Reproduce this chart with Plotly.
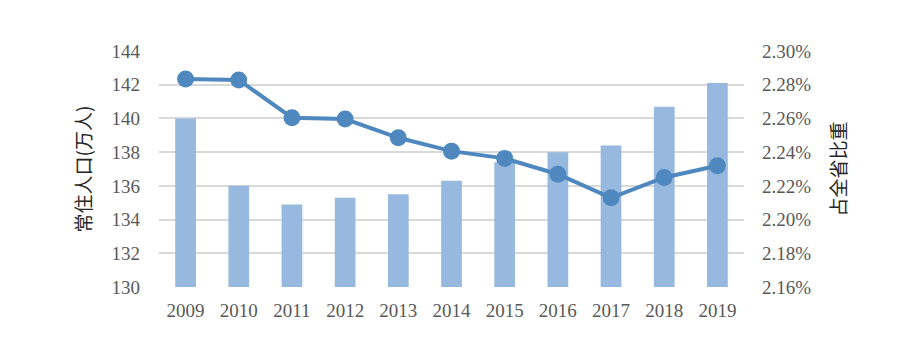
import plotly.graph_objects as go

years = ["2009", "2010", "2011", "2012", "2013", "2014", "2015", "2016", "2017", "2018", "2019"]
population = [140.0, 136.0, 134.9, 135.3, 135.5, 136.3, 137.4, 138.0, 138.4, 140.7, 142.1]
share_pct = [2.2834, 2.2828, 2.2604, 2.2596, 2.2485, 2.2406, 2.2363, 2.2269, 2.2129, 2.2250, 2.2319]

left_ticks = [130, 132, 134, 136, 138, 140, 142, 144]
right_ticks = [2.16, 2.18, 2.20, 2.22, 2.24, 2.26, 2.28, 2.30]
right_labels = [f"{v:.2f}%" for v in right_ticks]

tick_font = dict(family="Liberation Serif, Times New Roman, serif", size=19, color="#595959")
title_font = dict(family="Noto Sans CJK SC, sans-serif", size=19, color="#262626")

fig = go.Figure()
fig.add_trace(go.Bar(
    x=years, y=population, name="常住人口",
    marker=dict(color="#97b9e0", line=dict(width=0)),
    width=0.39, yaxis="y", showlegend=False,
))
fig.add_trace(go.Scatter(
    x=years, y=share_pct, name="占全省比重", mode="lines+markers",
    line=dict(color="#4f88bf", width=4),
    marker=dict(color="#4f88bf", size=17),
    yaxis="y2", showlegend=False,
))

fig.update_layout(
    width=915, height=353,
    margin=dict(l=159, r=171, t=51, b=66),
    paper_bgcolor="white", plot_bgcolor="white",
    xaxis=dict(
        type="category", tickfont=tick_font, showgrid=False, zeroline=False,
        showline=False, ticks="", ticklabelstandoff=10, automargin=False,
        range=[-0.5, 10.5],
    ),
    yaxis=dict(
        range=[130, 144], tickvals=left_ticks, ticktext=[str(v) for v in left_ticks],
        tickfont=tick_font, showgrid=True, gridcolor="#d9d9d9", gridwidth=2,
        zeroline=False, showline=False, ticks="", ticklabelstandoff=18,
        automargin=False,
        title=dict(text="常住人口(万人)", font=title_font, standoff=14),
    ),
    yaxis2=dict(
        range=[2.16, 2.30], tickvals=right_ticks, ticktext=right_labels,
        overlaying="y", side="right", automargin=False,
        tickfont=tick_font, showgrid=False, zeroline=False, showline=False,
        ticks="", ticklabelstandoff=17,
        title=dict(text="占全省比重", font=title_font, standoff=22),
    ),
)

fig.write_html("out.html")
